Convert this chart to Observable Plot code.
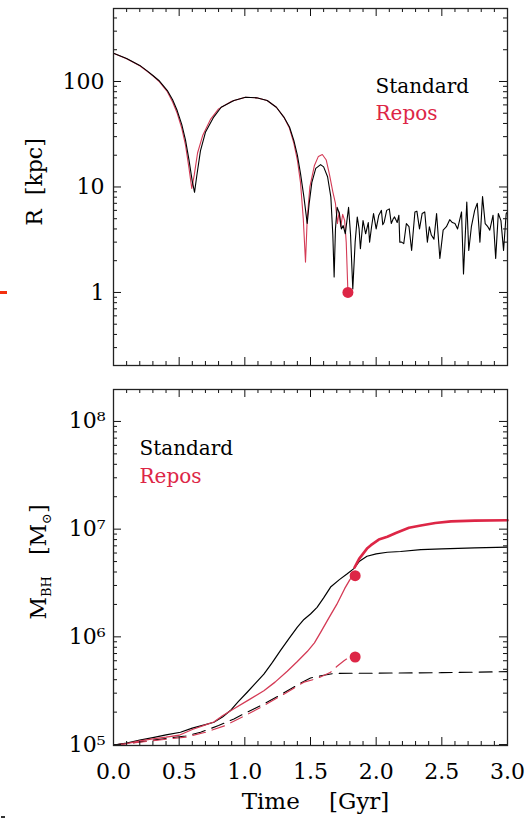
<!DOCTYPE html>
<html>
<head>
<meta charset="utf-8">
<script src="https://cdn.jsdelivr.net/npm/d3@7"></script>
<script src="https://cdn.jsdelivr.net/npm/@observablehq/plot@0.6"></script>
<style>
  body { margin: 0; background: #fff; }
  #wrap { position: relative; width: 529px; height: 819px; overflow: hidden; background: #fff; }
  #top { position: absolute; left: 0; top: 0; }
  #bot { position: absolute; left: 0; top: 380px; }
  .artifact { position: absolute; }
</style>
</head>
<body>
<div id="wrap">
  <div id="top"></div>
  <div id="bot"></div>
  <div class="artifact" style="left:0;top:291px;width:7px;height:3px;background:#f3300f;"></div>
  <div class="artifact" style="left:1px;top:816px;width:4px;height:2px;background:#333;"></div>
</div>
<script>
// ---------------- DATA ----------------
// Top panel: orbital radius R [kpc] vs time [Gyr]
const standardR = [
  [0,185],[0.1,165],[0.2,142],[0.256,126],[0.3,114],[0.35,101],[0.41,82],[0.45,67],[0.485,53],
  [0.52,39],[0.548,28],[0.575,18],[0.599,11.5],[0.617,8.9],[0.635,13],[0.662,22],[0.7,33],
  [0.763,46],[0.82,57],[0.917,66],[1.005,71],[1.09,70],[1.17,66],[1.24,57],[1.297,46],[1.34,37],
  [1.373,27.6],[1.4,20],[1.424,13.4],[1.45,8],[1.475,4.5],[1.49,7],[1.51,11],[1.54,15],[1.577,16.3],
  [1.6,15.5],[1.63,12.5],[1.655,8],[1.67,3.5],[1.68,1.4],[1.69,4],[1.703,6.4],[1.72,5.6],[1.735,4],
  [1.749,4.3],[1.765,3.6],[1.79,6.4],[1.805,3.5],[1.822,1.08],[1.84,3],[1.856,5.2],[1.87,4],
  [1.88,2.6],[1.9,4.8],[1.92,3.6],[1.94,4.6],[1.95,3.0],[1.965,4.2],[1.98,5.6],[2.0,4.0],[2.02,5.4],
  [2.04,6.0],[2.05,4.4],[2.06,4.6],[2.08,6.0],[2.1,6.2],[2.115,4.5],[2.13,5.0],[2.14,5.2],[2.16,4.6],
  [2.173,5.4],[2.18,3.0],[2.194,3.0],[2.21,2.9],[2.23,4.5],[2.25,4.2],[2.27,2.5],[2.295,5.8],
  [2.31,5.9],[2.33,4.0],[2.35,5.6],[2.37,5.8],[2.39,3.0],[2.405,4.2],[2.42,3.5],[2.44,3.2],[2.46,5.6],
  [2.485,2.1],[2.51,3.9],[2.535,4.2],[2.56,4.9],[2.58,4.6],[2.6,4.5],[2.62,4.0],[2.65,5.8],[2.665,1.5],
  [2.69,7.2],[2.705,2.5],[2.725,4.2],[2.75,6.0],[2.77,7.0],[2.79,3.0],[2.81,8.1],[2.83,4.5],[2.85,4.2],
  [2.865,3.9],[2.89,5.4],[2.91,2.1],[2.93,5.6],[2.95,4.8],[2.97,2.5],[2.99,5.6],[3.0,5.8]
];
const reposR = [
  [0,185],[0.1,164],[0.2,141],[0.256,125],[0.3,113],[0.35,99],[0.41,80],[0.45,64],[0.485,50],
  [0.52,36],[0.548,25],[0.575,15],[0.596,9.7],[0.615,13],[0.64,21],[0.68,31],[0.74,44],[0.8,55],
  [0.9,65],[1.005,71],[1.09,70],[1.17,66],[1.24,57],[1.297,46],[1.34,36],[1.373,26],[1.4,18],
  [1.424,11],[1.445,5],[1.462,1.94],[1.475,5],[1.495,10],[1.53,16],[1.56,19.5],[1.59,20.3],[1.62,18],
  [1.645,13],[1.67,9],[1.69,7],[1.705,4.5],[1.718,5.8],[1.73,4.2],[1.745,5.5],[1.76,4.8],[1.772,3],
  [1.785,1.0]
];
const reposRDot = [[1.785,1.0]];

// Bottom panel: black hole mass [Msun] vs time [Gyr]
const standardM = [
  [0,9.9e4],[0.1,1.03e5],[0.2,1.1e5],[0.3,1.16e5],[0.4,1.23e5],[0.51,1.3e5],[0.6,1.42e5],[0.7,1.53e5],
  [0.764,1.61e5],[0.83,1.8e5],[0.89,2.07e5],[0.95,2.5e5],[1.018,3.06e5],[1.08,3.7e5],[1.145,4.5e5],
  [1.21,5.8e5],[1.272,7.5e5],[1.34,9.8e5],[1.4,1.23e6],[1.45,1.45e6],[1.5,1.63e6],[1.55,1.88e6],
  [1.6,2.3e6],[1.653,2.9e6],[1.72,3.4e6],[1.78,3.85e6],[1.83,4.3e6],[1.87,5.0e6],[1.93,5.6e6],
  [2.0,5.9e6],[2.085,6.1e6],[2.186,6.2e6],[2.34,6.46e6],[2.5,6.55e6],[2.75,6.7e6],[3.0,6.8e6]
];
const reposMBefore = [
  [0,9.9e4],[0.1,1.02e5],[0.2,1.08e5],[0.3,1.13e5],[0.4,1.17e5],[0.5,1.22e5],[0.6,1.38e5],[0.7,1.52e5],
  [0.764,1.62e5],[0.83,1.85e5],[0.917,2.15e5],[1.03,2.6e5],[1.145,3.16e5],[1.23,3.8e5],[1.323,4.8e5],
  [1.4,5.9e5],[1.475,7.3e5],[1.53,8.8e5],[1.577,1.1e6],[1.64,1.5e6],[1.7,2.0e6],[1.76,2.8e6],
  [1.8,3.4e6],[1.84,3.9e6]
];
const reposMAfter = [
  [1.835,4.4e6],[1.87,5.3e6],[1.93,6.6e6],[1.96,7.1e6],[2.02,8.0e6],[2.085,8.5e6],[2.15,9.2e6],
  [2.25,1.03e7],[2.34,1.08e7],[2.45,1.14e7],[2.57,1.18e7],[2.75,1.2e7],[3.0,1.21e7]
];
const standardMdash = [
  [0,9.9e4],[0.2,1.06e5],[0.4,1.14e5],[0.55,1.2e5],[0.663,1.3e5],[0.8,1.5e5],[0.917,1.73e5],
  [1.018,2.0e5],[1.145,2.38e5],[1.25,2.8e5],[1.348,3.28e5],[1.42,3.7e5],[1.5,4.15e5],[1.58,4.35e5],
  [1.678,4.58e5],[2.0,4.6e5],[2.5,4.65e5],[3.0,4.75e5]
];
const reposMdash = [
  [0,9.9e4],[0.2,1.05e5],[0.4,1.12e5],[0.55,1.17e5],[0.7,1.3e5],[0.85,1.5e5],[1.018,1.9e5],
  [1.145,2.3e5],[1.3,2.95e5],[1.45,3.8e5],[1.55,4.1e5],[1.653,4.7e5],[1.7,5.3e5],[1.755,6.0e5],[1.79,6.4e5]
];
const reposMDots = [[1.84,3.7e6],[1.84,6.5e5]];

// Ticks and labels
const xMajor = [0, 0.5, 1, 1.5, 2, 2.5, 3];
const xMajorLabels = ["0.0", "0.5", "1.0", "1.5", "2.0", "2.5", "3.0"];
const xMinor = [0.1,0.2,0.3,0.4,0.6,0.7,0.8,0.9,1.1,1.2,1.3,1.4,1.6,1.7,1.8,1.9,2.1,2.2,2.3,2.4,2.6,2.7,2.8,2.9];
const rTicks = [1, 10, 100];
const rTickLabels = ["1", "10", "100"];
const rMinor = [0.3,0.4,0.5,0.6,0.7,0.8,0.9,2,3,4,5,6,7,8,9,20,30,40,50,60,70,80,90,200,300,400];
const mTicks = [1e5, 1e6, 1e7, 1e8];
const mTickLabels = ["10\u2075", "10\u2076", "10\u2077", "10\u2078"];
const mMinor = [2e5,3e5,4e5,5e5,6e5,7e5,8e5,9e5,2e6,3e6,4e6,5e6,6e6,7e6,8e6,9e6,2e7,3e7,4e7,5e7,6e7,7e7,8e7,9e7];
const legendLabels = ["Standard", "Repos"];
const xTitle = "Time    [Gyr]";

// ---------------- STYLE ----------------
const FONT = "DejaVu Serif";
const RED = "#dd2646";
const RED_THIN = "#d43a55";
const W = 529, ML = 113, MR = 22;
const frameW = W - ML - MR;

function boxTicks(frameH, xMaj, xMin, yMaj, yMin) {
  const L = 8, l = 4, s = {stroke: "#111", strokeWidth: 1};
  return [
    Plot.tickX(xMaj, {x: d => d, insetTop: frameH - L, ...s}),
    Plot.tickX(xMaj, {x: d => d, insetBottom: frameH - L, ...s}),
    Plot.tickX(xMin, {x: d => d, insetTop: frameH - l, ...s}),
    Plot.tickX(xMin, {x: d => d, insetBottom: frameH - l, ...s}),
    Plot.tickY(yMaj, {y: d => d, insetRight: frameW - L, ...s}),
    Plot.tickY(yMaj, {y: d => d, insetLeft: frameW - L, ...s}),
    Plot.tickY(yMin, {y: d => d, insetRight: frameW - l, ...s}),
    Plot.tickY(yMin, {y: d => d, insetLeft: frameW - l, ...s}),
    Plot.frame({stroke: "#222", strokeWidth: 1.3})
  ];
}

// ---------------- TOP PANEL ----------------
const topH = 380, topMT = 8, topMB = 15;
const topPlot = Plot.plot({
  width: W, height: topH,
  marginLeft: ML, marginRight: MR, marginTop: topMT, marginBottom: topMB,
  style: {fontFamily: FONT, fontSize: "22px", background: "white", color: "black"},
  x: {domain: [0, 3], axis: null},
  y: {type: "log", domain: [0.203, 492]},
  marks: [
    Plot.line(reposR, {x: d => d[0], y: d => d[1], stroke: RED_THIN, strokeWidth: 1.1}),
    Plot.line(standardR, {x: d => d[0], y: d => d[1], stroke: "#000", strokeWidth: 1.1}),
    Plot.dot(reposRDot, {x: d => d[0], y: d => d[1], r: 5.5, fill: RED, stroke: null}),
    ...boxTicks(topH - topMT - topMB, xMajor, xMinor, rTicks, rMinor),
    Plot.axisY(rTicks, {anchor: "left", tickSize: 0, tickPadding: 9, label: null,
      tickFormat: d => rTickLabels[rTicks.indexOf(d)], fontSize: 22}),
    Plot.text([legendLabels[0]], {text: d => d, frameAnchor: "top-left", dx: 262, dy: 70,
      lineAnchor: "top", textAnchor: "start", fontSize: 20, fill: "#000"}),
    Plot.text([legendLabels[1]], {text: d => d, frameAnchor: "top-left", dx: 262, dy: 97,
      lineAnchor: "top", textAnchor: "start", fontSize: 20, fill: RED})
  ]
});
document.getElementById("top").appendChild(topPlot);

// ---------------- BOTTOM PANEL ----------------
const botH = 439, botMT = 9, botMB = 74;
const botPlot = Plot.plot({
  width: W, height: botH,
  marginLeft: ML, marginRight: MR, marginTop: botMT, marginBottom: botMB,
  style: {fontFamily: FONT, fontSize: "22px", background: "white", color: "black"},
  x: {domain: [0, 3]},
  y: {type: "log", domain: [9.8e4, 1.98e8]},
  marks: [
    Plot.line(standardMdash, {x: d => d[0], y: d => d[1], stroke: "#000", strokeWidth: 1.1, strokeDasharray: "13,7"}),
    Plot.line(reposMdash, {x: d => d[0], y: d => d[1], stroke: RED_THIN, strokeWidth: 1.2, strokeDasharray: "13,7"}),
    Plot.line(standardM, {x: d => d[0], y: d => d[1], stroke: "#000", strokeWidth: 1.2}),
    Plot.line(reposMBefore, {x: d => d[0], y: d => d[1], stroke: RED_THIN, strokeWidth: 1.3}),
    Plot.line(reposMAfter, {x: d => d[0], y: d => d[1], stroke: RED, strokeWidth: 2.6}),
    Plot.dot(reposMDots, {x: d => d[0], y: d => d[1], r: 5.5, fill: RED, stroke: null}),
    ...boxTicks(botH - botMT - botMB, xMajor, xMinor, mTicks, mMinor),
    Plot.axisY(mTicks, {anchor: "left", tickSize: 0, tickPadding: 8, label: null,
      tickFormat: d => mTickLabels[mTicks.indexOf(d)], fontSize: 22}),
    Plot.axisX(xMajor, {anchor: "bottom", tickSize: 0, tickPadding: 18, label: null,
      tickFormat: d => xMajorLabels[xMajor.indexOf(d)], fontSize: 22}),
    Plot.text([xTitle], {text: d => d, frameAnchor: "bottom", dx: 5, dy: 56,
      lineAnchor: "middle", fontSize: 23, fill: "#000"}),
    Plot.text([legendLabels[0]], {text: d => d, frameAnchor: "top-left", dx: 26, dy: 51,
      lineAnchor: "top", textAnchor: "start", fontSize: 20, fill: "#000"}),
    Plot.text([legendLabels[1]], {text: d => d, frameAnchor: "top-left", dx: 26, dy: 79,
      lineAnchor: "top", textAnchor: "start", fontSize: 20, fill: RED})
  ]
});
document.getElementById("bot").appendChild(botPlot);

// ---------------- Y AXIS TITLES (rotated, with subscripts) ----------------
const tsvg = d3.select(topPlot.tagName.toLowerCase() === "svg" ? topPlot : topPlot.querySelector("svg"));
tsvg.append("text")
  .attr("transform", "translate(42,182) rotate(-90)")
  .attr("text-anchor", "middle")
  .attr("font-family", FONT).attr("font-size", 22).attr("fill", "#000")
  .style("white-space", "pre")
  .text("R  [kpc]");

const bsvg = d3.select(botPlot.tagName.toLowerCase() === "svg" ? botPlot : botPlot.querySelector("svg"));
const mt = bsvg.append("text")
  .attr("transform", "translate(46,182) rotate(-90)")
  .attr("text-anchor", "middle")
  .attr("font-family", FONT).attr("font-size", 22).attr("fill", "#000")
  .style("white-space", "pre");
mt.append("tspan").text("M");
mt.append("tspan").attr("font-size", 13).attr("dy", 5).text("BH");
mt.append("tspan").attr("dy", -5).text("   [M");
mt.append("tspan").attr("font-size", 13).attr("dy", 5).text("\u2299");
mt.append("tspan").attr("dy", -5).text("]");
</script>
</body>
</html>
